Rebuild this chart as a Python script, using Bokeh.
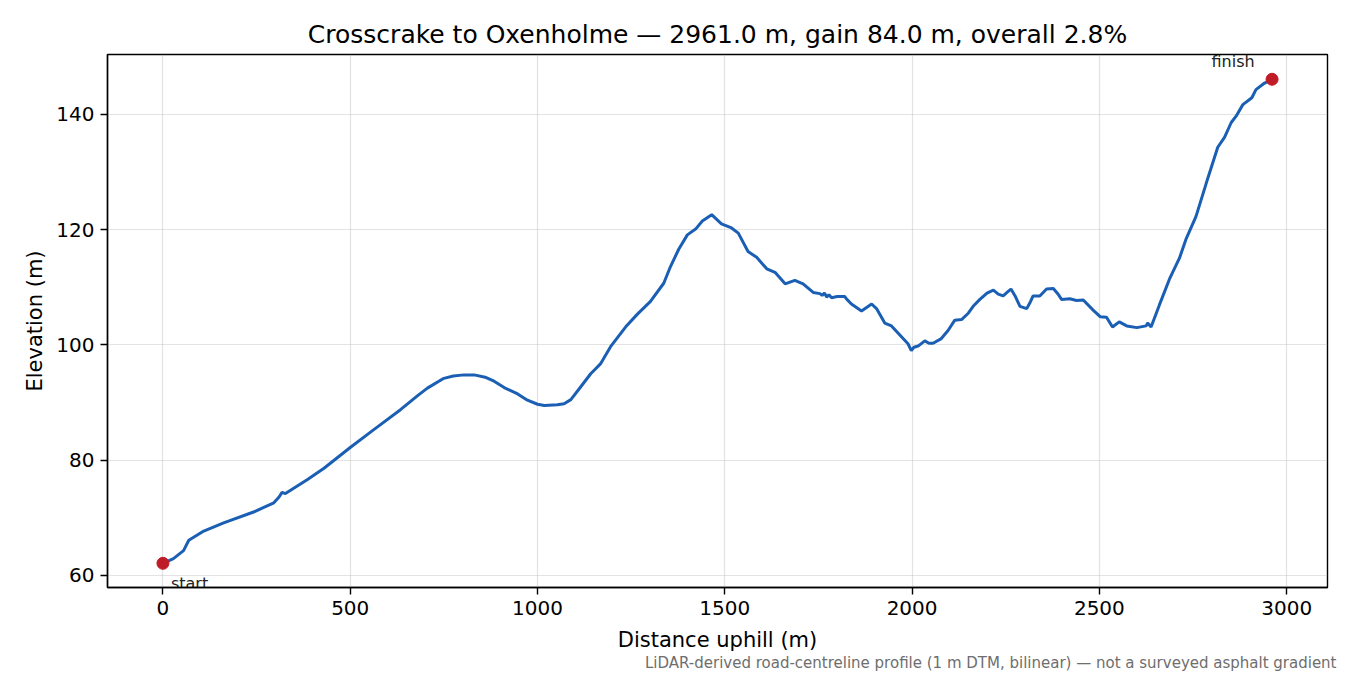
from bokeh.core.properties import value
from bokeh.embed import file_html
from bokeh.models import ColumnDataSource, FixedTicker, Range1d, Title
from bokeh.plotting import figure
from bokeh.resources import INLINE

LINE_BLUE = "#1a5fb4"
DOT_RED = "#c01c28"
FONT = "DejaVu Sans"

# road-centreline profile
distance_m = [
    0, 28, 55, 69, 109, 162, 242, 296, 310, 318, 327, 385, 430, 500, 563,
    635, 680, 706, 750, 775, 804, 831, 860, 884, 911, 947, 973, 1000, 1018,
    1053, 1071, 1089, 1115, 1142, 1168,
    1195, 1235, 1266, 1301, 1337, 1355, 1377, 1400, 1422, 1440, 1465, 1491,
    1518, 1536, 1562, 1585, 1612, 1634, 1661, 1687, 1709, 1736, 1754, 1760,
    1766, 1772, 1778, 1785, 1800, 1820, 1826, 1838, 1865, 1892, 1905, 1927,
    1945, 1976, 1989, 1998, 2005, 2016, 2034, 2045, 2056, 2078, 2096, 2114,
    2132, 2150, 2163, 2181, 2200, 2217, 2230, 2243, 2255, 2264, 2275, 2288,
    2306, 2316, 2323, 2341, 2359, 2377, 2390, 2399, 2421, 2439, 2457, 2484,
    2502, 2519, 2535, 2553, 2573, 2600, 2625, 2629, 2638, 2660, 2687, 2714,
    2731, 2758, 2785, 2816, 2834, 2852, 2865, 2883, 2907, 2918, 2940, 2961,
]
elevation_m = [
    62.1, 62.9, 64.3, 66.1, 67.7, 69.1, 71.0, 72.6, 73.6, 74.4, 74.2, 76.6,
    78.6, 82.2, 85.3, 88.8, 91.2, 92.5, 94.2, 94.6, 94.8, 94.8, 94.4, 93.7,
    92.6, 91.5, 90.4, 89.7, 89.5, 89.6, 89.8,
    90.5, 92.7, 95.0, 96.7, 99.7, 103.1, 105.3, 107.5, 110.7, 113.6, 116.6,
    119.1, 120.1, 121.5, 122.6, 121.0, 120.3, 119.4, 116.2, 115.2, 113.2,
    112.6, 110.6, 111.2, 110.6, 109.1, 108.9, 108.6, 109.0, 108.3, 108.7,
    108.2, 108.4, 108.4, 107.9, 107.1, 105.9, 107.1, 106.3, 103.8, 103.3,
    101.1, 100.2, 99.0, 99.6, 99.8, 100.7, 100.3, 100.3, 101.1, 102.5, 104.3,
    104.4, 105.5, 106.7, 107.9, 109.0, 109.5, 108.8, 108.5, 109.2, 109.7,
    108.5, 106.7, 106.3, 107.5, 108.5, 108.5, 109.7, 109.8, 108.8, 107.9,
    108.0, 107.7, 107.8, 106.0, 104.9, 104.8, 103.1, 104.0, 103.3, 103.0,
    103.3, 103.8, 103.1, 106.9, 111.4, 115.1, 118.3, 122.3, 128.0, 134.3,
    136.0, 138.6, 139.7, 141.7, 142.9, 144.3, 145.4, 146.1,
]

end_labels = ["start", "finish"]
end_distance = [distance_m[0], distance_m[-1]]
end_elevation = [elevation_m[0], elevation_m[-1]]

x_ticks = [0, 500, 1000, 1500, 2000, 2500, 3000]
y_ticks = [60, 80, 100, 120, 140]

title_text = "Crosscrake to Oxenholme \u2014 2961.0 m, gain 84.0 m, overall 2.8%"
note_text = ("LiDAR-derived road-centreline profile (1 m DTM, bilinear) "
             "\u2014 not a surveyed asphalt gradient")

p = figure(width=1350, height=675, output_backend="svg", toolbar_location=None,
           x_range=Range1d(-148, 3109), y_range=Range1d(57.9, 150.4),
           min_border_left=107, min_border_right=23, min_border_top=54,
           min_border_bottom=88)

p.title.text = title_text
p.title.align = "center"
p.title.text_font = FONT
p.title.text_font_size = "25px"
p.title.text_font_style = "normal"
p.title.text_color = "black"
p.title.standoff = 11

note = Title(text=note_text, align="right", text_font=FONT,
             text_font_size="15px", text_font_style="normal",
             text_color="#6e6e6e", offset=-9, standoff=-5)
p.add_layout(note, "below")

p.line(distance_m, elevation_m, color=LINE_BLUE, line_width=3)

ends = ColumnDataSource(dict(x=end_distance, y=end_elevation, label=end_labels,
                             dx=[8, -39], dy=[20, -18],
                             align=["left", "center"]))
p.scatter("x", "y", source=ends, size=12, color=DOT_RED)
p.text("x", "y", text="label", source=ends, x_offset="dx", y_offset="dy",
       text_align="align", text_baseline="middle", text_font=value(FONT),
       text_font_size="16px", text_color="#222222")

p.xaxis.axis_label = "Distance uphill (m)"
p.yaxis.axis_label = "Elevation (m)"
p.xaxis.ticker = FixedTicker(ticks=x_ticks)
p.yaxis.ticker = FixedTicker(ticks=y_ticks)

for ax in (p.xaxis, p.yaxis):
    ax.axis_label_text_font = FONT
    ax.axis_label_text_font_size = "21px"
    ax.axis_label_text_font_style = "normal"
    ax.axis_label_text_color = "black"
    ax.major_label_text_font = FONT
    ax.major_label_text_font_size = "20px"
    ax.major_label_text_color = "black"
    ax.major_label_standoff = 6
    ax.axis_line_color = "black"
    ax.axis_line_width = 1.4
    ax.major_tick_line_color = "black"
    ax.major_tick_line_width = 1.4
    ax.major_tick_in = 0
    ax.major_tick_out = 7
    ax.minor_tick_line_color = None

p.xaxis.axis_label_standoff = 10
p.yaxis.axis_label_standoff = 6

p.grid.grid_line_color = "#b0b0b0"
p.grid.grid_line_alpha = 0.35
p.grid.grid_line_width = 1.2

p.outline_line_color = "black"
p.outline_line_width = 1.4
p.outline_line_alpha = 1.0
p.background_fill_color = "white"
p.border_fill_color = "white"

open("out.html", "w").write(file_html(p, INLINE))
